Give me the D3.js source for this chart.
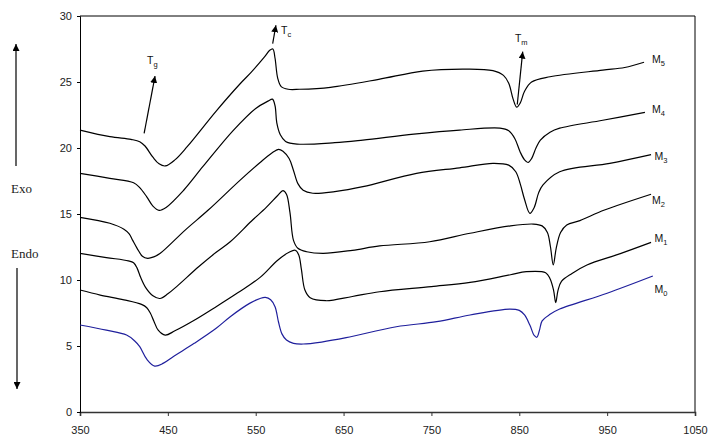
<!DOCTYPE html>
<html>
<head>
<meta charset="utf-8">
<script src="https://cdn.jsdelivr.net/npm/d3@7"></script>
<style>
  body { margin: 0; background: #fff; }
  svg { display: block; }
  .tick text { font-family: "Liberation Sans", Arial, sans-serif; font-size: 11px; fill: #222; }
</style>
</head>
<body>
<svg width="708" height="437"></svg>
<script>
var svg = d3.select("svg");

// DSC traces, [temperature, heat flow]
var m0 = [[350,6.59],[380,6.2],[403,5.83],[412,5.4],[418,4.95],[426,4.0],[435,3.48],[445,3.7],[456,4.19],[480,5.2],[505,6.34],[521,7.22],[543,8.23],[555,8.6],[561,8.68],[567,8.5],[572,7.98],[576,6.8],[580,5.9],[585,5.45],[593,5.2],[604,5.15],[625,5.3],[653,5.63],[710,6.46],[756,6.84],[794,7.35],[839,7.8],[850,7.7],[856,7.35],[862,6.59],[867,5.8],[870,5.66],[873,6.2],[876,6.9],[885,7.4],[896,7.8],[950,9.0],[1002,10.3]];
var m1 = [[350,9.24],[373,8.86],[400,8.5],[420,8.15],[426,7.9],[430,7.5],[434,6.9],[439,6.2],[447,5.83],[458,6.15],[480,6.95],[505,7.98],[530,9.05],[555,10.2],[575,11.5],[588,12.1],[595,12.25],[599,11.9],[602,10.8],[606,9.24],[612,8.65],[630,8.43],[660,8.75],[691,9.11],[750,9.5],[794,9.82],[840,10.4],[858,10.63],[880,10.55],[885,10.1],[889,9.24],[891.5,8.28],[894,9.2],[898,9.9],[910,10.5],[927,11.14],[965,12.0],[1000,12.85]];
var m2 = [[350,12.02],[380,11.7],[405,11.45],[411,11.3],[415,10.9],[419,10.2],[425,9.4],[433,8.8],[441,8.6],[450,8.95],[460,9.5],[485,11.0],[505,12.1],[521,12.9],[545,14.45],[562,15.5],[575,16.4],[581,16.77],[585,16.5],[589,15.1],[593,13.0],[598,12.4],[608,12.14],[627,12.02],[660,12.25],[691,12.58],[748,12.9],[794,13.54],[840,14.1],[866,14.24],[876,14.1],[882,13.6],[885.5,12.5],[888.7,11.14],[892,12.4],[897,13.6],[904,14.17],[919,14.5],[947,15.3],[1000,16.5]];
var m3 = [[350,14.75],[384,14.3],[400,13.85],[406,13.5],[410,13.0],[415,12.4],[421,11.8],[427,11.64],[434,11.75],[441,12.0],[470,13.8],[496,15.3],[532,17.55],[555,18.9],[568,19.6],[576,19.9],[581,19.75],[588,19.2],[593,18.3],[598,17.3],[604,16.8],[615,16.57],[640,16.7],[672,17.07],[733,18.08],[782,18.5],[820,18.84],[838,18.7],[846,18.2],[851,17.3],[856,16.1],[862,15.05],[867,15.5],[872,16.6],[877,17.2],[896,18.2],[953,18.84],[1000,19.5]];
var m4 = [[350,18.08],[384,17.7],[411,17.37],[418,17.0],[426,16.3],[433,15.6],[440,15.28],[448,15.5],[468,16.8],[490,18.6],[524,21.3],[550,23.0],[564,23.55],[569,23.7],[572,23.2],[574,21.9],[578,21.0],[584,20.5],[597,20.3],[640,20.4],[672,20.6],[730,21.05],[782,21.36],[828,21.5],[838,21.3],[845,20.7],[851,19.7],[856,19.1],[860,18.9],[864,19.2],[869,20.0],[874,20.6],[885,21.2],[896,21.5],[945,22.1],[993,22.7]];
var m5 = [[350,21.36],[384,20.86],[408,20.65],[418,20.48],[424,20.15],[433,19.3],[440,18.8],[447,18.64],[458,19.1],[472,20.1],[505,22.8],[532,24.85],[545,25.75],[560,26.9],[566,27.4],[569.5,27.5],[572,26.8],[575,25.3],[579,24.65],[587,24.45],[600,24.45],[635,24.6],[690,25.2],[740,25.83],[790,25.98],[820,25.86],[832,25.5],[838,24.9],[843,23.7],[847,23.1],[851,23.4],[856,24.3],[864,25.0],[885,25.4],[945,25.9],[970,26.1],[992,26.5]];

var seriesNames = ["M0", "M1", "M2", "M3", "M4", "M5"];
var seriesData = [m0, m1, m2, m3, m4, m5];
var seriesColors = ["#1f1f9c", "#000", "#000", "#000", "#000", "#000"];
// where each series name sits [temperature, value at baseline]
var labelPos = [[1004,9.02],[1004,12.88],[1001,15.76],[1004,19.09],[1001,22.65],[1001,26.44]];

// peak markers: arrow from -> to, label spot
var markNames = ["g", "c", "m"];
var markFrom = [[423,21.1],[569.3,27.9],[847.7,23.3]];
var markTo = [[435.4,25.45],[573,29.3],[853.9,27.3]];
var markLabel = [[426.3,26.36],[578.8,28.6],[845,28.03]];

var xTicks = [350, 450, 550, 650, 750, 850, 950, 1050];
var yTicks = [0, 5, 10, 15, 20, 25, 30];

var margin = {top: 16, right: 13, bottom: 25, left: 80},
    width = +svg.attr("width") - margin.left - margin.right,
    height = +svg.attr("height") - margin.top - margin.bottom;

var defs = svg.append("defs");
defs.append("marker")
    .attr("id", "head")
    .attr("viewBox", "0 0 10 10")
    .attr("refX", 10).attr("refY", 5)
    .attr("markerWidth", 7).attr("markerHeight", 7)
    .attr("markerUnits", "userSpaceOnUse")
    .attr("orient", "auto")
  .append("path")
    .attr("d", "M0,0L10,5L0,10Z")
    .attr("fill", "#000");

var g = svg.append("g")
    .attr("transform", "translate(" + margin.left + "," + margin.top + ")");

var x = d3.scaleLinear().domain([350, 1050]).range([0, width]);
var y = d3.scaleLinear().domain([0, 30]).range([height, 0]);

// frame top and right
g.append("path")
    .attr("d", "M0,0H" + width + "V" + height)
    .attr("fill", "none")
    .attr("stroke", "#000")
    .attr("stroke-width", 1);

var xAxis = g.append("g")
    .attr("transform", "translate(0," + height + ")")
    .call(d3.axisBottom(x).tickValues(xTicks).tickFormat(d3.format("d")).tickSize(4).tickPadding(10));
xAxis.select(".domain").attr("stroke", "#333").attr("stroke-width", 1.6);
xAxis.selectAll(".tick line").attr("stroke", "#333");

var yAxis = g.append("g")
    .call(d3.axisLeft(y).tickValues(yTicks).tickSize(3).tickPadding(5));
yAxis.select(".domain").attr("stroke", "#000");

var line = d3.line()
    .x(function(d) { return x(d[0]); })
    .y(function(d) { return y(d[1]); })
    .curve(d3.curveCatmullRom.alpha(0.5));

g.selectAll(".trace")
    .data(seriesData)
    .enter()
    .append("path")
    .attr("class", "trace")
    .attr("fill", "none")
    .attr("stroke", function(d, i) { return seriesColors[i]; })
    .attr("stroke-width", 1.2)
    .attr("d", line);

// M labels with subscript
var lab = g.selectAll(".mlab")
    .data(seriesNames)
    .enter()
    .append("text")
    .attr("class", "mlab")
    .attr("x", function(d, i) { return x(labelPos[i][0]); })
    .attr("y", function(d, i) { return y(labelPos[i][1]); })
    .style("font-family", "'Liberation Sans', Arial, sans-serif")
    .style("font-size", "10.5px")
    .attr("fill", "#111");
lab.append("tspan").text("M");
lab.append("tspan").attr("dy", 3).style("font-size", "7.5px").text(function(d) { return d.slice(1); });

// Tg, Tc, Tm arrows
g.selectAll(".mark")
    .data(markNames)
    .enter()
    .append("line")
    .attr("class", "mark")
    .attr("x1", function(d, i) { return x(markFrom[i][0]); })
    .attr("y1", function(d, i) { return y(markFrom[i][1]); })
    .attr("x2", function(d, i) { return x(markTo[i][0]); })
    .attr("y2", function(d, i) { return y(markTo[i][1]); })
    .attr("stroke", "#000")
    .attr("stroke-width", 1.2)
    .attr("marker-end", "url(#head)");

var tl = g.selectAll(".tlab")
    .data(markNames)
    .enter()
    .append("text")
    .attr("class", "tlab")
    .attr("x", function(d, i) { return x(markLabel[i][0]); })
    .attr("y", function(d, i) { return y(markLabel[i][1]); })
    .style("font-family", "'Liberation Sans', Arial, sans-serif")
    .style("font-size", "10.5px")
    .attr("fill", "#111");
tl.append("tspan").text("T");
tl.append("tspan").attr("dy", 3).style("font-size", "7.5px").text(function(d) { return d; });

// Exo / Endo side arrows
svg.append("line")
    .attr("x1", 16).attr("y1", 166).attr("x2", 16).attr("y2", 44)
    .attr("stroke", "#000").attr("stroke-width", 1.2)
    .attr("marker-end", "url(#head)");
svg.append("line")
    .attr("x1", 17).attr("y1", 268).attr("x2", 17).attr("y2", 389)
    .attr("stroke", "#000").attr("stroke-width", 1.2)
    .attr("marker-end", "url(#head)");

svg.append("text")
    .attr("x", 11).attr("y", 193)
    .style("font-family", "'Liberation Serif', 'Times New Roman', serif")
    .style("font-size", "13px")
    .attr("fill", "#222")
    .text("Exo");
svg.append("text")
    .attr("x", 11).attr("y", 258)
    .style("font-family", "'Liberation Serif', 'Times New Roman', serif")
    .style("font-size", "13px")
    .attr("fill", "#222")
    .text("Endo");
</script>
</body>
</html>
